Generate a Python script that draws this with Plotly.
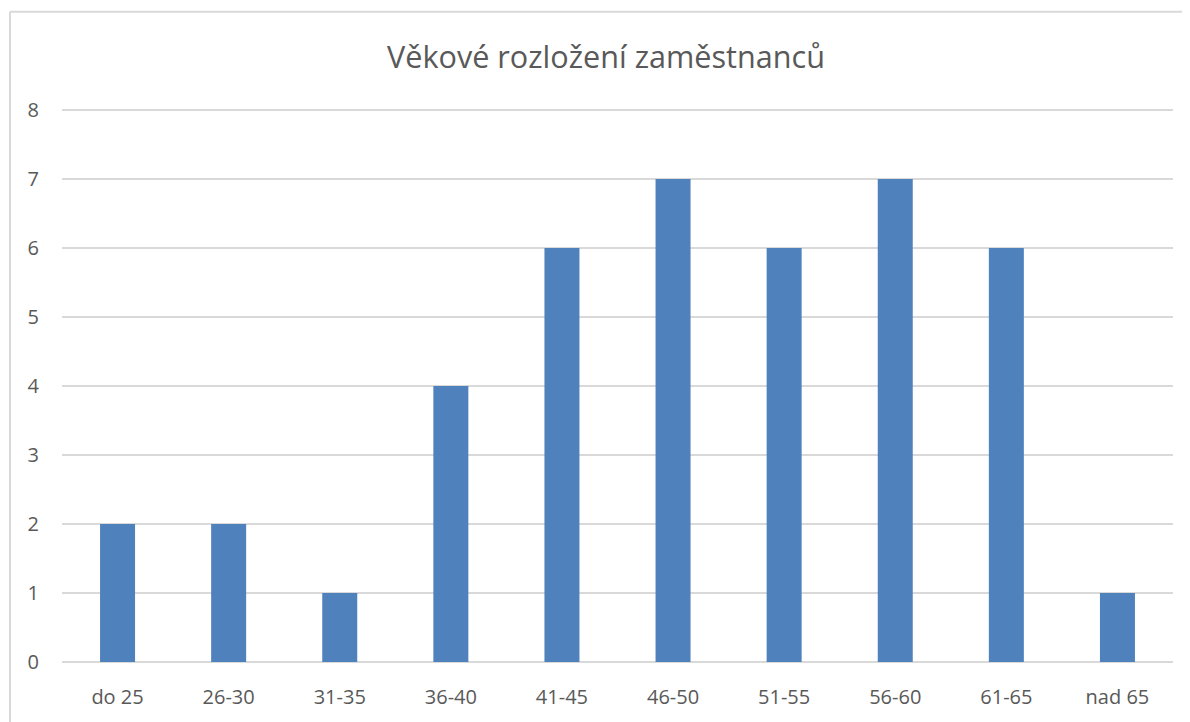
import plotly.graph_objects as go

categories = ["do 25", "26-30", "31-35", "36-40", "41-45", "46-50", "51-55", "56-60", "61-65", "nad 65"]
counts = [2, 2, 1, 4, 6, 7, 6, 7, 6, 1]
title_text = "Věkové rozložení zaměstnanců"

# page body has an 8px margin, so the figure is placed at (8, 8)
OFF = 8
W, H = 1190 - OFF, 722 - OFF
YMAX = 8.06
unit = 69.5
pw = 1111
ph = round(YMAX * unit)
zero_y = 666 - OFF
L = 62 - OFF
T = zero_y - ph
R, B = W - L - pw, H - zero_y

def px_x(x):
    return (x - OFF - L) / pw

def px_y(y):
    return (zero_y - (y - OFF)) / ph

fig = go.Figure(go.Bar(x=categories, y=counts, marker=dict(color="#4F81BD", line=dict(width=0)), hoverinfo="x+y"))

text_color = "#595959"
border = dict(color="#d9d9d9", width=2)
fig.update_layout(
    width=W, height=H,
    margin=dict(l=L, r=R, t=T, b=B),
    paper_bgcolor="white", plot_bgcolor="white",
    font=dict(family="Open Sans", color=text_color, size=20),
    title=dict(text=title_text, x=(606 - OFF) / W, xanchor="center", y=1 - (57 - OFF) / H, yanchor="middle",
               font=dict(size=30.6, color=text_color, family="Open Sans")),
    bargap=0.685,
    showlegend=False,
    xaxis=dict(showgrid=False, showline=False, ticks="", zeroline=False,
               tickfont=dict(size=20, color=text_color), ticklabelstandoff=21),
    yaxis=dict(range=[0, YMAX], tickvals=[0, 1, 2, 3, 4, 5, 6, 7, 8], showgrid=True, gridcolor="#d9d9d9", gridwidth=1.5,
               zeroline=True, zerolinecolor="#d9d9d9", zerolinewidth=1.5, showline=False, ticks="",
               tickfont=dict(size=20, color=text_color), ticklabelstandoff=22),
    shapes=[
        dict(type="line", xref="paper", yref="paper", x0=px_x(10), x1=px_x(10), y0=px_y(11), y1=px_y(760), line=border),
        dict(type="line", xref="paper", yref="paper", x0=px_x(10), x1=px_x(1240), y0=px_y(11), y1=px_y(11), line=border),
    ],
)

fig.write_html("out.html")
